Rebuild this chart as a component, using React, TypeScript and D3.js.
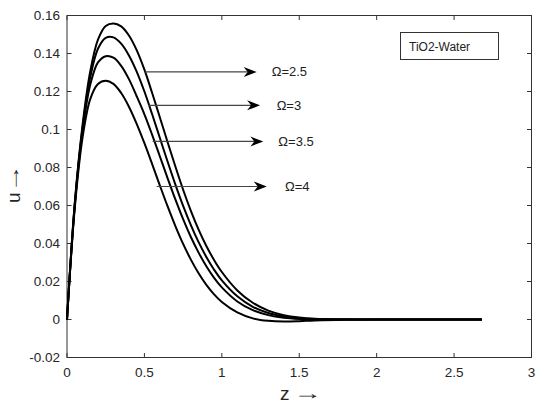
import React from "react";
import * as d3 from "d3";

const zGrid = [0, 0.05, 0.1, 0.15, 0.2, 0.25, 0.3, 0.35, 0.4, 0.45, 0.5, 0.55, 0.6, 0.65, 0.7, 0.75, 0.8, 0.85, 0.9, 0.95, 1.0, 1.1, 1.2, 1.3, 1.4, 1.5, 1.6, 1.8, 2.0, 2.2, 2.4, 2.68];

const uOmega25 = [0, 0.061, 0.102, 0.1305, 0.1473, 0.1545, 0.1558, 0.1543, 0.1495, 0.1418, 0.1315, 0.1192, 0.1063, 0.0933, 0.0805, 0.0683, 0.0572, 0.0473, 0.0387, 0.0313, 0.025, 0.0153, 0.0088, 0.0047, 0.0023, 0.001, 0.0004, 0.0001, 0, 0, 0, 0];
const uOmega3 = [0, 0.0605, 0.1005, 0.1275, 0.1425, 0.1482, 0.1485, 0.1452, 0.139, 0.1305, 0.12, 0.108, 0.0955, 0.083, 0.071, 0.0598, 0.0497, 0.0407, 0.0329, 0.0262, 0.0206, 0.0122, 0.0067, 0.0034, 0.0016, 0.0007, 0.0002, 0, 0, 0, 0, 0];
const uOmega35 = [0, 0.06, 0.099, 0.1235, 0.1353, 0.1386, 0.1378, 0.1335, 0.1265, 0.1175, 0.108, 0.0972, 0.0858, 0.0743, 0.0632, 0.0528, 0.0434, 0.0352, 0.028, 0.0219, 0.0169, 0.0095, 0.0049, 0.0023, 0.0009, 0.0003, 0.0001, 0, 0, 0, 0, 0];
const uOmega4 = [0, 0.0585, 0.0955, 0.116, 0.124, 0.1257, 0.124, 0.1192, 0.112, 0.103, 0.0928, 0.0818, 0.0705, 0.0595, 0.0492, 0.0398, 0.0315, 0.0243, 0.0182, 0.0132, 0.0092, 0.0037, 0.0006, -0.0007, -0.0011, -0.0009, -0.0005, -0.0001, 0, 0, 0, 0];

const seriesValues = [uOmega25, uOmega3, uOmega35, uOmega4];

const xTicks = [0, 0.5, 1, 1.5, 2, 2.5, 3];
const xTickLabels = ["0", "0.5", "1", "1.5", "2", "2.5", "3"];
const yTicks = [-0.02, 0, 0.02, 0.04, 0.06, 0.08, 0.1, 0.12, 0.14, 0.16];
const yTickLabels = ["-0.02", "0", "0.02", "0.04", "0.06", "0.08", "0.1", "0.12", "0.14", "0.16"];

const omegaLabels = ["Ω=2.5", "Ω=3", "Ω=3.5", "Ω=4"];
const arrowU = [0.1303, 0.1127, 0.0937, 0.07];
const arrowStartZ = [0.504, 0.525, 0.553, 0.579];
const arrowEndZ = [1.225, 1.247, 1.268, 1.29];
const labelZ = [1.322, 1.354, 1.365, 1.408];

const legendText = "TiO2-Water";
const xAxisName = "z";
const yAxisName = "u";

const W = 540;
const H = 404;
const left = 67;
const right = 531.5;
const top = 15.5;
const bottom = 357.5;
const font = "'Liberation Sans', Arial, Helvetica, sans-serif";

export default function App() {
  const x = d3.scaleLinear().domain([0, 3]).range([left, right]);
  const y = d3.scaleLinear().domain([-0.02, 0.16]).range([bottom, top]);
  const line = d3
    .line<number>()
    .x((_, i) => x(zGrid[i]))
    .y((d) => y(d))
    .curve(d3.curveCatmullRom.alpha(0.5));

  const arrowHead = (tx: number, ty: number) =>
    `M${tx},${ty} L${tx - 13},${ty - 5} L${tx - 9},${ty} L${tx - 13},${ty + 5} Z`;

  return (
    <svg width={W} height={H} style={{ position: "absolute", left: 0, top: 0, background: "#fff" }}>
      <rect x={0} y={0} width={W} height={H} fill="#fff" />
      <rect x={left} y={top} width={right - left} height={bottom - top} fill="none" stroke="#333" strokeWidth={1} />
      {xTicks.map((t, i) => (
        <g key={"xt" + i}>
          <line x1={x(t)} x2={x(t)} y1={bottom} y2={bottom - 4.5} stroke="#333" />
          <line x1={x(t)} x2={x(t)} y1={top} y2={top + 4.5} stroke="#333" />
          <text x={x(t)} y={377} textAnchor="middle" fontFamily={font} fontSize={13.5} fill="#262626">
            {xTickLabels[i]}
          </text>
        </g>
      ))}
      {yTicks.map((t, i) => (
        <g key={"yt" + i}>
          <line x1={left} x2={left + 4.5} y1={y(t)} y2={y(t)} stroke="#333" />
          <line x1={right} x2={right - 4.5} y1={y(t)} y2={y(t)} stroke="#333" />
          <text x={60} y={y(t) + 4.7} textAnchor="end" fontFamily={font} fontSize={13.5} fill="#262626">
            {yTickLabels[i]}
          </text>
        </g>
      ))}
      {/* x axis label */}
      <text x={280} y={400} fontFamily={font} fontSize={19} fill="#262626">
        {xAxisName}
      </text>
      <text transform="translate(293,399) scale(1.6,1)" fontFamily={font} fontSize={18} fill="#262626">
        →
      </text>
      {/* y axis label */}
      <g transform="translate(20,203) rotate(-90)">
        <text x={0} y={0} fontFamily={font} fontSize={19} fill="#262626">
          {yAxisName}
        </text>
        <text transform="translate(10,-1) scale(1.6,1)" fontFamily={font} fontSize={18} fill="#262626">
          →
        </text>
      </g>
      {seriesValues.map((s, i) => (
        <path key={"c" + i} d={line(s) || ""} fill="none" stroke="#000" strokeWidth={2} />
      ))}
      {omegaLabels.map((lab, i) => (
        <g key={"a" + i}>
          <line x1={x(arrowStartZ[i])} x2={x(arrowEndZ[i]) - 9} y1={y(arrowU[i])} y2={y(arrowU[i])} stroke="#444" strokeWidth={1.2} />
          <path d={arrowHead(x(arrowEndZ[i]), y(arrowU[i]))} fill="#000" />
          <text x={x(labelZ[i])} y={y(arrowU[i]) + 4.5} fontFamily={font} fontSize={13} fill="#222">
            {lab}
          </text>
        </g>
      ))}
      <rect x={400.5} y={32.5} width={98} height={27} fill="#fff" stroke="#333" strokeWidth={1} />
      <text x={409} y={50.5} fontFamily={font} fontSize={12} fill="#222">
        {legendText}
      </text>
    </svg>
  );
}
